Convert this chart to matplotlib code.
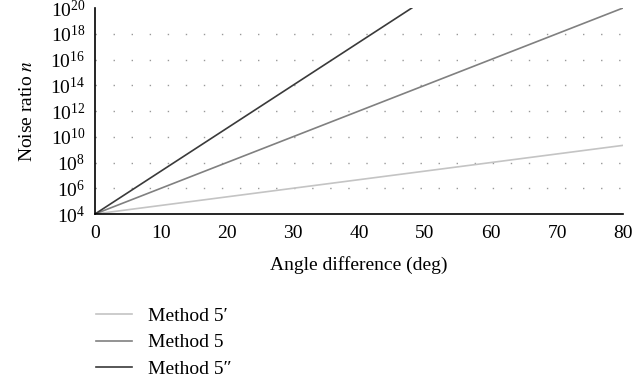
import numpy as np
import matplotlib
matplotlib.use('Agg')
import matplotlib.pyplot as plt
from matplotlib.ticker import LogLocator, LogFormatterMathtext, NullLocator

plt.rcParams['font.family'] = ['Liberation Serif', 'DejaVu Serif']
plt.rcParams['mathtext.fontset'] = 'stix'

# endpoints of each straight line on the log axis
angle_a = [0, 80]
method5p = [1e4, 10 ** 9.33]      # Method 5'
angle_b = [0, 80]
method5 = [1e4, 1e20]             # Method 5
angle_c = [0, 48]
method5pp = [1e4, 1e20]           # Method 5''

labels = ["Method 5\u2032", "Method 5", "Method 5\u2033"]
x_ticks = [0, 10, 20, 30, 40, 50, 60, 70, 80]

fig = plt.figure(figsize=(6.34, 3.83), dpi=100)
ax = fig.add_axes([95 / 634, 1 - 214 / 383, 528 / 634, (214 - 8) / 383])

ax.plot(angle_a, method5p, color='#c4c4c4', lw=1.2, label=labels[0])
ax.plot(angle_b, method5, color='#808080', lw=1.2, label=labels[1])
ax.plot(angle_c, method5pp, color='#3a3a3a', lw=1.2, label=labels[2])

ax.set_yscale('log')
ax.set_xlim(0, 80)
ax.set_ylim(1e4, 1e20)
ax.set_xticks(x_ticks)
ax.yaxis.set_major_locator(LogLocator(base=100.0, numticks=20))
ax.yaxis.set_major_formatter(LogFormatterMathtext())
ax.yaxis.set_minor_locator(NullLocator())
ax.tick_params(axis='x', length=0, labelsize=14, pad=8)
ax.tick_params(axis='y', length=0, labelsize=14, pad=7)

# dotted horizontal grid at even decades
for e in range(6, 20, 2):
    ax.axhline(10 ** e, color='#999999', lw=1.0, ls=(0, (1, 12)), zorder=0)

for s in ['top', 'right']:
    ax.spines[s].set_visible(False)
ax.spines['left'].set_linewidth(1.2)
ax.spines['bottom'].set_linewidth(1.2)

ax.set_xlabel('Angle difference (deg)', fontsize=14, labelpad=10)
ax.set_ylabel('Noise ratio $n$', fontsize=14, labelpad=10)

fig.legend(loc='upper left', bbox_to_anchor=(78 / 634, 1 - 290 / 383),
           frameon=False, fontsize=14, handlelength=1.9, labelspacing=0.45,
           handletextpad=0.8)

fig.savefig('out.png', dpi=100)
